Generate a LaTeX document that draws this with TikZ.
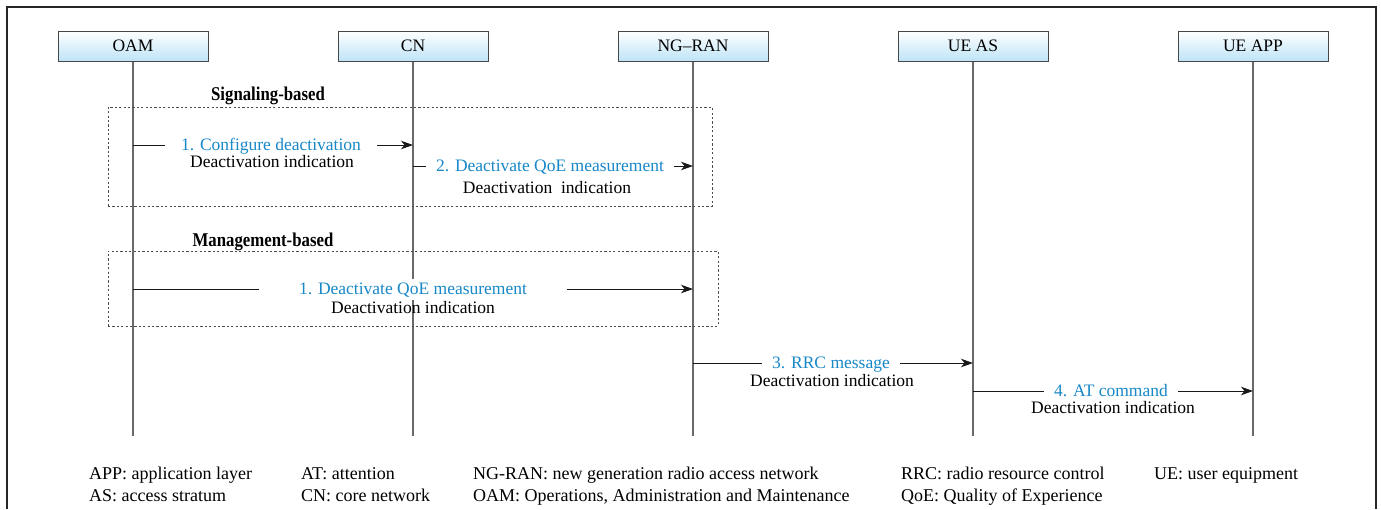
\documentclass[tikz,border=0pt]{standalone}
\usepackage{fontspec}
\setmainfont{Liberation Serif}
\newfontfamily\tagfont{Liberation Serif}[FakeStretch=0.86]
\usetikzlibrary{arrows.meta}

\definecolor{msgblue}{RGB}{24,136,200}
\definecolor{hdrblue}{RGB}{190,228,247}
\definecolor{lifegray}{RGB}{105,105,105}
\definecolor{boxgray}{RGB}{70,70,70}

\begin{document}
\begin{tikzpicture}[x=1pt,y=-1pt,
  font=\fontsize{17.5}{19}\selectfont,
  hdr/.style={draw=boxgray, line width=1pt, minimum width=150pt, minimum height=30pt,
    top color=white, bottom color=hdrblue, inner sep=0pt, text=black},
  life/.style={draw=lifegray, line width=1.1pt},
  group/.style={draw=black!70, line width=0.8pt, dash pattern=on 2.2pt off 2.2pt,
    inner sep=0pt},
  msg/.style={draw=black!90, line width=1pt,
    -{Stealth[length=12pt,width=8.5pt,inset=3.5pt]}},
  cue/.style={text=msgblue, fill=white, anchor=base, inner ysep=3pt, inner xsep=10pt},
  note/.style={text=black, anchor=base, inner sep=1pt},
  legend/.style={anchor=base west, inner sep=0pt, text=black,
    font=\fontsize{18}{19}\selectfont},
  phase/.style={font=\tagfont\bfseries\fontsize{19.5}{21}\selectfont, anchor=base},
]
\useasboundingbox (0,0) rectangle (1381,509);

% outer frame, open at the bottom
\draw[black!85, line width=1.2pt] (7,509) -- (7,7) -- (1376,7) -- (1376,509);

% entities
\node[hdr] (oam) at (133,46)  {OAM};
\node[hdr] (cn)  at (413,46)  {CN};
\node[hdr] (ran) at (693,46)  {NG–RAN};
\node[hdr] (ueas) at (973,46) {UE AS};
\node[hdr] (ueapp) at (1253,46) {UE APP};

% lifelines
\foreach \n in {oam,cn,ran,ueas,ueapp}
  \draw[life] (\n.south) -- (\n.south |- 0,436);

% grouping frames
\node[phase] (sigtitle) at (268,100) {Signaling-based};
\node[group, minimum width=604pt, minimum height=99pt] (sigbox) at (410,156.5) {};
\node[phase] (mgtitle) at (263,246) {Management-based};
\node[group, minimum width=610pt, minimum height=75pt] (mgbox) at (413,288.5) {};

% anchor points on the lifelines
\coordinate (oam1) at (oam.south |- 0,145);
\coordinate (cn1)  at (cn.south  |- 0,145);
\coordinate (cn2)  at (cn.south  |- 0,166);
\coordinate (ran2) at (ran.south |- 0,166);
\coordinate (oam3) at (oam.south |- 0,289);
\coordinate (ran3) at (ran.south |- 0,289);
\coordinate (ran4) at (ran.south |- 0,363);
\coordinate (ueas4) at (ueas.south |- 0,363);
\coordinate (ueas5) at (ueas.south |- 0,391);
\coordinate (ueapp5) at (ueapp.south |- 0,391);

% messages
\draw[msg] (oam1) -- (cn1);
\node[cue, inner xsep=16pt] (m1) at (271,150) {1. Configure deactivation};
\node[note] (n1) at (272,167) {Deactivation indication};

\draw[msg] (cn2) -- (ran2);
\node[cue] (m2) at (550,171) {2. Deactivate QoE measurement};
\node[note] (n2) at (547,193) {Deactivation~ indication};

\draw[msg] (oam3) -- (ran3);
\node[cue, inner xsep=40pt] (m3) at (413,294) {1. Deactivate QoE measurement};
\node[note] (n3) at (413,313) {Deactivation indication};

\draw[msg] (ran4) -- (ueas4);
\node[cue] (m4) at (831,368) {3. RRC message};
\node[note] (n4) at (832,386) {Deactivation indication};

\draw[msg] (ueas5) -- (ueapp5);
\node[cue] (m5) at (1111,396) {4. AT command};
\node[note] (n5) at (1113,413) {Deactivation indication};

% abbreviations
\node[legend] (g1) at (89,479)   {APP: application layer};
\node[legend] (g2) at (301,479)  {AT: attention};
\node[legend] (g3) at (473,479)  {NG-RAN: new generation radio access network};
\node[legend] (g4) at (901,479)  {RRC: radio resource control};
\node[legend] (g5) at (1154,479) {UE: user equipment};
\node[legend] (g6) at (89,501)   {AS: access stratum};
\node[legend] (g7) at (301,501)  {CN: core network};
\node[legend] (g8) at (473,501)  {OAM: Operations, Administration and Maintenance};
\node[legend] (g9) at (901,501)  {QoE: Quality of Experience};
\end{tikzpicture}
\end{document}
